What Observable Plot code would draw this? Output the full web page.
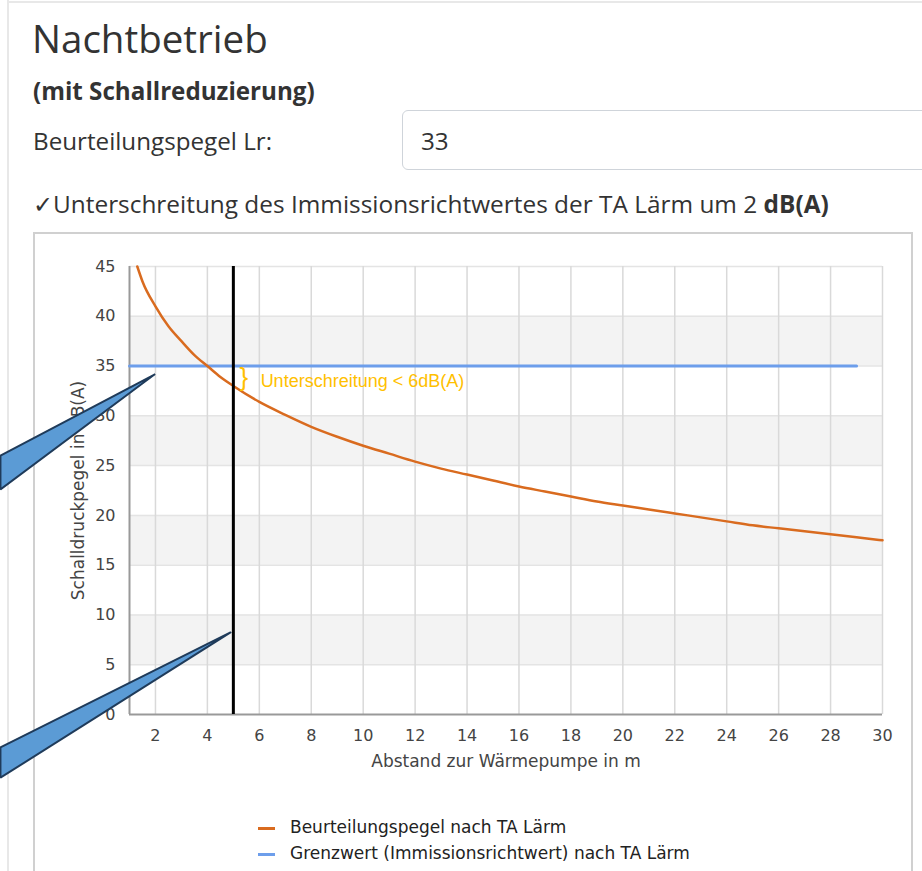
<!DOCTYPE html>
<html><head><meta charset="utf-8">
<script src="https://cdn.jsdelivr.net/npm/d3@7"></script>
<script src="https://cdn.jsdelivr.net/npm/@observablehq/plot@0.6"></script>
<style>
body{margin:0;background:#fff;width:922px;height:871px;overflow:hidden;position:relative;font-family:"Open Sans",sans-serif;color:#333}
.abs{position:absolute;white-space:nowrap;line-height:normal}
#chart{position:absolute;left:0;top:240px;z-index:2}
.leg{position:absolute;left:258px;font-family:"DejaVu Sans",sans-serif;font-size:17px;line-height:20px;color:#222;white-space:nowrap}
.leg span{display:inline-block;width:17px;height:3px;vertical-align:middle;margin-right:15px}
</style></head><body>
<div class="abs" style="left:7px;top:0;width:2px;height:871px;background:#e8e8e8"></div>
<div class="abs" style="left:7px;top:1px;width:915px;height:2px;background:#e8e8e8"></div>
<div class="abs" style="left:32px;top:12px;font-size:38.5px">Nachtbetrieb</div>
<div class="abs" style="left:33px;top:74px;font-size:24.2px;font-weight:bold">(mit Schallreduzierung)</div>
<div class="abs" style="left:33px;top:124px;font-size:24.2px">Beurteilungspegel Lr:</div>
<div class="abs" style="left:402px;top:110px;width:560px;height:60px;border:1px solid #cfd4da;border-radius:6px;box-sizing:border-box"></div>
<div class="abs" style="left:421px;top:124px;font-size:24.2px">33</div>
<div class="abs" style="left:33px;top:187px;font-size:24.4px">✓Unterschreitung des Immissionsrichtwertes der TA Lärm um 2 <b>dB(A)</b></div>
<div class="abs" style="left:33px;top:232px;width:880px;height:700px;border:2px solid #d0d0d0;box-sizing:border-box"></div>
<div id="chart"></div>
<div class="leg" style="top:817px"><span style="background:#d96b1f"></span>Beurteilungspegel nach TA Lärm</div>
<div class="leg" style="top:843px"><span style="background:#6d9eeb"></span>Grenzwert (Immissionsrichtwert) nach TA Lärm</div>
<script>
// Distance to heat pump (m) and rating level (dB(A))
const distance = [1.3, 1.5, 2, 2.5, 3, 3.5, 4, 4.5, 5, 6, 7, 8, 9, 10, 11, 12, 13, 14, 15, 16, 17, 18, 19, 20, 21, 22, 23, 24, 25, 26, 27, 28, 29, 30];
const level    = [45.0, 43.5, 41.0, 39.0, 37.5, 36.1, 35.0, 33.9, 33.0, 31.4, 30.1, 28.9, 27.9, 27.0, 26.2, 25.4, 24.7, 24.1, 23.5, 22.9, 22.4, 21.9, 21.4, 21.0, 20.6, 20.2, 19.8, 19.4, 19.0, 18.7, 18.4, 18.1, 17.8, 17.5];
const limitDistance = [1, 29];
const limitLevel = [35, 35];
const markerDistance = [5];
const xDomain = [1, 30];
const yDomain = [0, 45];
const xTicks = [2, 4, 6, 8, 10, 12, 14, 16, 18, 20, 22, 24, 26, 28, 30];
const yTicks = [0, 5, 10, 15, 20, 25, 30, 35, 40, 45];
const bandLow = [5, 15, 25, 35];
const bandHigh = [10, 20, 30, 40];
const annotationText = ["Unterschreitung < 6dB(A)"];
const annotationX = [6.05];
const annotationY = [33.5];
const braceX = [5.4];
const braceY = [33.8];
const xLabel = "Abstand zur Wärmepumpe in m";
const yLabel = "Schalldruckpegel in dB(A)";
// callout pointers (overlay shapes) in data units
const calloutId = [1, 1, 1, 1, 2, 2, 2, 2];
const calloutX  = [1.96, -3.97, -3.97, 1.96, 4.89, -3.97, -3.97, 4.89];
const calloutY  = [34.15, 26.0, 22.6, 34.15, 8.24, -3.3, -6.35, 8.24];

const curve = distance.map((d, i) => ({d, L: level[i]}));
const limit = limitDistance.map((d, i) => ({d, L: limitLevel[i]}));
const bands = bandLow.map((lo, i) => ({lo, hi: bandHigh[i]}));
const callouts = calloutId.map((id, i) => ({id, x: calloutX[i], y: calloutY[i]}));

const plot = Plot.plot({
  width: 922, height: 560,
  marginLeft: 129, marginRight: 40, marginTop: 26, marginBottom: 86,
  x: {domain: xDomain},
  y: {domain: yDomain},
  style: {fontFamily: "DejaVu Sans, sans-serif", fontSize: "16px", color: "#444", overflow: "visible", background: "transparent"},
  marks: [
    Plot.rect(bands, {x1: () => xDomain[0], x2: () => xDomain[1], y1: "lo", y2: "hi", fill: "#f3f3f3"}),
    Plot.ruleY(yTicks.slice(1), {stroke: "#e4e4e4", strokeWidth: 1.5}),
    Plot.ruleX(xTicks, {stroke: "#d9d9d9", strokeWidth: 1.5}),
    Plot.ruleX([xDomain[0]], {stroke: "#999", strokeWidth: 2}),
    Plot.ruleY([yDomain[0]], {stroke: "#999", strokeWidth: 2}),
    Plot.axisX({ticks: xTicks, tickSize: 0, tickPadding: 15, label: null, fill: "#444", fontSize: 16}),
    Plot.axisY({ticks: yTicks, tickSize: 0, tickPadding: 14, label: null, fill: "#444", fontSize: 16}),
    Plot.text([xLabel], {frameAnchor: "bottom", dy: 52, fill: "#444", fontSize: 17}),
    Plot.text([yLabel], {frameAnchor: "left", textAnchor: "middle", dx: -51, rotate: -90, fill: "#444", fontSize: 17}),
    Plot.line(limit, {x: "d", y: "L", stroke: "#6d9eeb", strokeWidth: 3}),
    Plot.line(curve, {x: "d", y: "L", stroke: "#d96b1f", strokeWidth: 2.5, curve: "monotone-x"}),
    Plot.ruleX(markerDistance, {stroke: "#000", strokeWidth: 3}),
    Plot.text(["}"], {x: () => braceX[0], y: () => braceY[0], fill: "#ffc000", fontSize: 26, fontFamily: "Liberation Sans"}),
    Plot.text(annotationText, {x: () => annotationX[0], y: () => annotationY[0], textAnchor: "start", fill: "#ffc000", fontSize: 18, fontFamily: "Liberation Sans"}),
    Plot.line(callouts, {x: "x", y: "y", z: "id", fill: "#5b9bd5", stroke: "#1f3b5a", strokeWidth: 2, strokeLinejoin: "miter"})
  ]
});
document.getElementById("chart").appendChild(plot);
</script>
</body></html>
